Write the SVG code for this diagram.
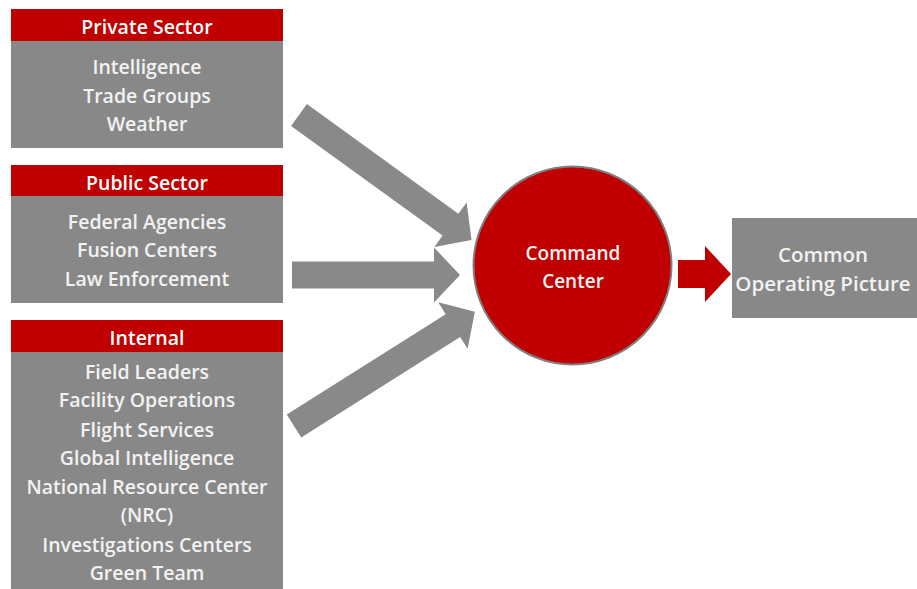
<svg xmlns="http://www.w3.org/2000/svg" width="917" height="589" viewBox="0 0 917 589">
  <style>
    .hdr { fill: #c00000; }
    .body { fill: #888888; }
    .flow { fill: #898989; }
    .htxt { font-family: "Open Sans", "Noto Sans", sans-serif; font-size: 19.5px; font-weight: 600; fill: #ffffff; text-anchor: middle; }
    .btxt { font-family: "Open Sans", "Noto Sans", sans-serif; font-size: 19.5px; font-weight: 600; fill: #f2f2f2; text-anchor: middle; }
    .ctxt { font-family: "Open Sans", "Noto Sans", sans-serif; font-size: 19px; font-weight: 600; fill: #f2f2f2; text-anchor: middle; }
    .otxt { font-family: "Open Sans", "Noto Sans", sans-serif; font-size: 20.5px; font-weight: 600; fill: #f2f2f2; text-anchor: middle; }
  </style>
  <rect width="917" height="589" fill="#ffffff"/>

  <!-- Source groups -->
  <g id="private-sector">
    <rect class="body" x="11" y="40" width="272" height="108"/>
    <rect class="hdr" x="11" y="9" width="272" height="32"/>
    <text class="htxt" x="147" y="34">Private Sector</text>
    <text class="btxt" x="147" y="74">Intelligence</text>
    <text class="btxt" x="147" y="103">Trade Groups</text>
    <text class="btxt" x="147" y="131">Weather</text>
  </g>

  <g id="public-sector">
    <rect class="body" x="11" y="195" width="272" height="108"/>
    <rect class="hdr" x="11" y="165" width="272" height="31"/>
    <text class="htxt" x="147" y="190">Public Sector</text>
    <text class="btxt" x="147" y="229">Federal Agencies</text>
    <text class="btxt" x="147" y="257">Fusion Centers</text>
    <text class="btxt" x="147" y="286">Law Enforcement</text>
  </g>

  <g id="internal">
    <rect class="body" x="11" y="351" width="272" height="238"/>
    <rect class="hdr" x="11" y="320" width="272" height="32"/>
    <text class="htxt" x="147" y="345">Internal</text>
    <text class="btxt" x="147" y="379">Field Leaders</text>
    <text class="btxt" x="147" y="407">Facility Operations</text>
    <text class="btxt" x="147" y="437">Flight Services</text>
    <text class="btxt" x="147" y="465">Global Intelligence</text>
    <text class="btxt" x="147" y="494">National Resource Center</text>
    <text class="btxt" x="147" y="522">(NRC)</text>
    <text class="btxt" x="147" y="552">Investigations Centers</text>
    <text class="btxt" x="147" y="580">Green Team</text>
  </g>

  <!-- Block arrows -->
  <g id="connectors">
    <polygon class="flow" transform="translate(299,115) rotate(35.9)" points="0,-13.5 187,-13.5 187,-27.5 213,0 187,27.5 187,13.5 0,13.5"/>
    <polygon class="flow" points="292,261.5 434,261.5 434,247.5 460,275 434,302.5 434,288.5 292,288.5"/>
    <polygon class="flow" transform="translate(294,426) rotate(-32.3)" points="0,-13.5 188,-13.5 188,-27.5 214,0 188,27.5 188,13.5 0,13.5"/>
    <polygon fill="#c00000" points="678,260 705,260 705,246 731,274 705,302 705,288 678,288"/>
  </g>

  <g id="command-center">
    <circle cx="572.5" cy="265.5" r="99" fill="#c00000" stroke="#7f7f7f" stroke-width="2"/>
    <text class="ctxt" x="573" y="260">Command</text>
    <text class="ctxt" x="573" y="288">Center</text>
  </g>

  <g id="common-operating-picture">
    <rect class="body" x="732" y="218" width="185" height="100"/>
    <text class="otxt" x="823" y="262">Common</text>
    <text class="otxt" x="823" y="291">Operating Picture</text>
  </g>
</svg>
